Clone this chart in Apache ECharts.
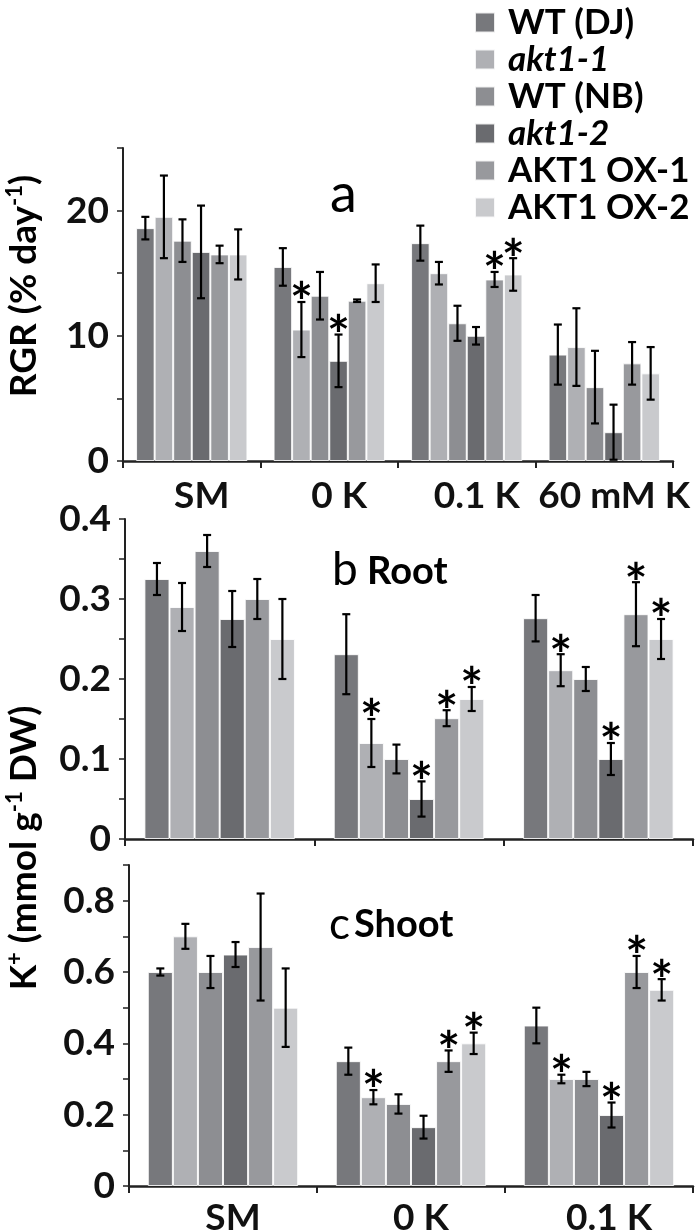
<!DOCTYPE html>
<html>
<head>
<meta charset="utf-8">
<script src="https://cdn.jsdelivr.net/npm/echarts@6/dist/echarts.min.js"></script>
<style>
html,body{margin:0;padding:0;background:#fff;}
#chart{width:699px;height:1231px;}
</style>
</head>
<body>
<div id="chart"></div>
<script>
// ---------- data ----------
const genotypes = ['WT (DJ)', 'akt1-1', 'WT (NB)', 'akt1-2', 'AKT1 OX-1', 'AKT1 OX-2'];
const colors = ['#77787c', '#afb0b4', '#8d8e92', '#6a6b6f', '#98999d', '#c9cacd'];

const rgrCategories = ['SM', '0 K', '0.1 K', '60 mM K'];
const kCategories = ['SM', '0 K', '0.1 K'];

// Panel a: RGR (% day-1); rows = genotypes, columns = categories
const rgrMean = [
  [18.6, 15.5, 17.4, 8.5],
  [19.5, 10.5, 15.0, 9.1],
  [17.6, 13.2, 11.0, 5.9],
  [16.7, 8.0, 10.0, 2.3],
  [16.5, 12.8, 14.5, 7.8],
  [16.5, 14.2, 14.9, 7.0]
];
const rgrErr = [
  [0.9, 1.5, 1.4, 2.4],
  [3.3, 2.2, 0.9, 3.1],
  [1.7, 1.9, 1.4, 2.9],
  [3.7, 2.1, 0.7, 2.2],
  [0.7, 0.1, 0.6, 1.7],
  [2.0, 1.5, 1.3, 2.1]
];
const rgrSig = [
  [0, 0, 0, 0],
  [0, 1, 0, 0],
  [0, 0, 0, 0],
  [0, 1, 0, 0],
  [0, 0, 1, 0],
  [0, 0, 1, 0]
];

// Panel b: Root K+ (mmol g-1 DW)
const rootMean = [
  [0.325, 0.231, 0.276],
  [0.290, 0.120, 0.211],
  [0.360, 0.100, 0.200],
  [0.275, 0.050, 0.100],
  [0.300, 0.151, 0.281],
  [0.250, 0.175, 0.250]
];
const rootErr = [
  [0.020, 0.050, 0.029],
  [0.030, 0.030, 0.020],
  [0.020, 0.018, 0.015],
  [0.035, 0.022, 0.020],
  [0.025, 0.010, 0.040],
  [0.050, 0.015, 0.025]
];
const rootSig = [
  [0, 0, 0],
  [0, 1, 1],
  [0, 0, 0],
  [0, 1, 1],
  [0, 1, 1],
  [0, 1, 1]
];

// Panel c: Shoot K+ (mmol g-1 DW)
const shootMean = [
  [0.600, 0.350, 0.450],
  [0.700, 0.249, 0.300],
  [0.600, 0.230, 0.300],
  [0.649, 0.165, 0.199],
  [0.670, 0.350, 0.600],
  [0.500, 0.400, 0.550]
];
const shootErr = [
  [0.010, 0.038, 0.050],
  [0.035, 0.020, 0.012],
  [0.045, 0.027, 0.020],
  [0.035, 0.032, 0.035],
  [0.150, 0.030, 0.045],
  [0.110, 0.030, 0.030]
];
const shootSig = [
  [0, 0, 0],
  [0, 1, 1],
  [0, 0, 0],
  [0, 0, 1],
  [0, 1, 1],
  [0, 1, 1]
];

// ---------- chart ----------
const FONT = 'Lato';
const panels = [
  {cats: rgrCategories, mean: rgrMean, err: rgrErr, sig: rgrSig, gap: 0.19,
   grid: {left: 123, top: 148, width: 550, height: 313}, max: 25, interval: 5,
   fmt: v => (Math.round(v) % 10 === 0 ? String(Math.round(v)) : ''), showX: true, labelMargin: 17},
  {cats: kCategories, mean: rootMean, err: rootErr, sig: rootSig, gap: 0.205,
   grid: {left: 125, top: 519, width: 568, height: 320}, max: 0.4, interval: 0.05,
   fmt: v => { const t = Math.round(v * 100); return t % 10 === 0 ? (t === 0 ? '0' : (t / 100).toFixed(1)) : ''; },
   showX: false, labelMargin: 16},
  {cats: kCategories, mean: shootMean, err: shootErr, sig: shootSig, gap: 0.2,
   grid: {left: 129, top: 865, width: 564, height: 321}, max: 0.9, interval: 0.1,
   fmt: v => { const t = Math.round(v * 10); return t % 2 === 0 ? (t === 0 ? '0' : (t / 10).toFixed(1)) : ''; },
   showX: true, labelMargin: 14}
];

const grid = [], xAxis = [], yAxis = [], series = [];
panels.forEach((p, gi) => {
  grid.push(Object.assign({outerBoundsMode: 'none', containLabel: false}, p.grid));
  xAxis.push({
    type: 'category', gridIndex: gi, data: p.cats,
    axisLine: {lineStyle: {color: '#222', width: 2.5}},
    axisTick: {show: true, length: 7, lineStyle: {color: '#222', width: 2}},
    axisLabel: {show: p.showX, interval: 0, hideOverlap: false, margin: p.labelMargin,
                fontFamily: FONT, fontWeight: 'bold',
                fontSize: 37, color: '#111', padding: [0, 0, 0, 20]}
  });
  yAxis.push({
    type: 'value', gridIndex: gi, min: 0, max: p.max, interval: p.interval,
    splitLine: {show: false},
    axisLine: {show: true, lineStyle: {color: '#222', width: 2}},
    axisTick: {show: true, length: 6, lineStyle: {color: '#222', width: 1.5}},
    axisLabel: {margin: 14, fontFamily: FONT, fontWeight: 'bold', fontSize: 37, color: '#111',
                formatter: p.fmt}
  });
  genotypes.forEach((g, si) => {
    series.push({
      type: 'bar', name: g, xAxisIndex: gi, yAxisIndex: gi,
      data: p.mean[si],
      barGap: '0%', barCategoryGap: (p.gap * 100) + '%',
      itemStyle: {color: colors[si], borderColor: 'rgba(255,255,255,0.85)', borderWidth: 1},
      emphasis: {disabled: true},
      silent: true
    });
  });
  const errData = [];
  p.cats.forEach((c, ci) => {
    genotypes.forEach((g, si) => {
      errData.push([ci, si, p.mean[si][ci], p.err[si][ci], p.sig[si][ci]]);
    });
  });
  const gap = p.gap;
  series.push({
    type: 'custom', name: 'err' + gi, xAxisIndex: gi, yAxisIndex: gi,
    data: errData, encode: {x: 0, y: 2}, z: 10, silent: true,
    renderItem: function (params, api) {
      const ci = api.value(0), si = api.value(1), v = api.value(2), e = api.value(3), s = api.value(4);
      const band = api.size([1, 0])[0];
      const bw = band * (1 - gap) / 6;
      const cx = api.coord([ci, v])[0] + (si - 2.5) * bw;
      const yTop = api.coord([ci, v + e])[1];
      const yBot = api.coord([ci, Math.max(0, v - e)])[1];
      const cap = 4;
      const st = {stroke: '#000', lineWidth: 2.2};
      const children = [
        {type: 'line', shape: {x1: cx, y1: yTop, x2: cx, y2: yBot}, style: st},
        {type: 'line', shape: {x1: cx - cap, y1: yTop, x2: cx + cap, y2: yTop}, style: st},
        {type: 'line', shape: {x1: cx - cap, y1: yBot, x2: cx + cap, y2: yBot}, style: st}
      ];
      if (s) {
        children.push({type: 'text', style: {text: '*', x: cx, y: yTop + 2, align: 'center',
          verticalAlign: 'middle', fontFamily: FONT, fontWeight: 'bold', fontSize: 54, fill: '#000'}});
      }
      return {type: 'group', children: children};
    }
  });
});

const supStyle = {fontFamily: FONT, fontWeight: 'bold', fontSize: 22, lineHeight: 22, verticalAlign: 'top', fill: '#000'};
const mainStyle = {fontFamily: FONT, fontWeight: 'bold', fontSize: 37, lineHeight: 40, fill: '#000'};

const option = {
  animation: false,
  backgroundColor: '#fff',
  grid: grid, xAxis: xAxis, yAxis: yAxis, series: series,
  legend: {
    data: genotypes, orient: 'vertical', left: 469, top: 0,
    itemWidth: 20, itemHeight: 20, itemGap: 2, icon: 'rect',
    selectedMode: false,
    textStyle: {fontFamily: FONT, fontWeight: 'bold', fontSize: 35, lineHeight: 32, color: '#000', padding: [0, 0, 0, 8]},
    formatter: n => (n.indexOf('akt') === 0 ? '{i|' + n + '}' : '{n|' + n + '}')
  },
  graphic: [
    {type: 'text', left: 330, top: 168, style: {text: 'a', fontFamily: FONT, fontSize: 54, fill: '#000'}},
    {type: 'text', left: 332, top: 547, style: {text: 'b', fontFamily: FONT, fontSize: 46, fill: '#000'}},
    {type: 'text', left: 367, top: 553, style: {text: 'Root', fontFamily: FONT, fontWeight: 'bold', fontSize: 38, fill: '#000'}},
    {type: 'text', left: 329, top: 903, style: {text: 'c', fontFamily: FONT, fontSize: 44, fill: '#000'}},
    {type: 'text', left: 354, top: 906, style: {text: 'Shoot', fontFamily: FONT, fontWeight: 'bold', fontSize: 38, fill: '#000'}},
    {type: 'text', x: 24, y: 286, rotation: Math.PI / 2,
     style: {text: '{m|RGR (% day}{s|-1}{m|)}', align: 'center', verticalAlign: 'middle',
             rich: {m: mainStyle, s: supStyle}}},
    {type: 'text', x: 24, y: 848, rotation: Math.PI / 2,
     style: {text: '{m|K}{s|+}{m| (mmol g}{s|-1}{m| DW)}', align: 'center', verticalAlign: 'middle',
             rich: {m: mainStyle, s: supStyle}}}
  ]
};
option.legend.textStyle.rich = {
  i: {fontFamily: FONT, fontWeight: 'bold', fontStyle: 'italic', fontSize: 35, lineHeight: 32, color: '#000'},
  n: {fontFamily: FONT, fontWeight: 'bold', fontSize: 35, lineHeight: 32, color: '#000'}
};

const chart = echarts.init(document.getElementById('chart'), null, {renderer: 'canvas'});
chart.setOption(option);
</script>
</body>
</html>
